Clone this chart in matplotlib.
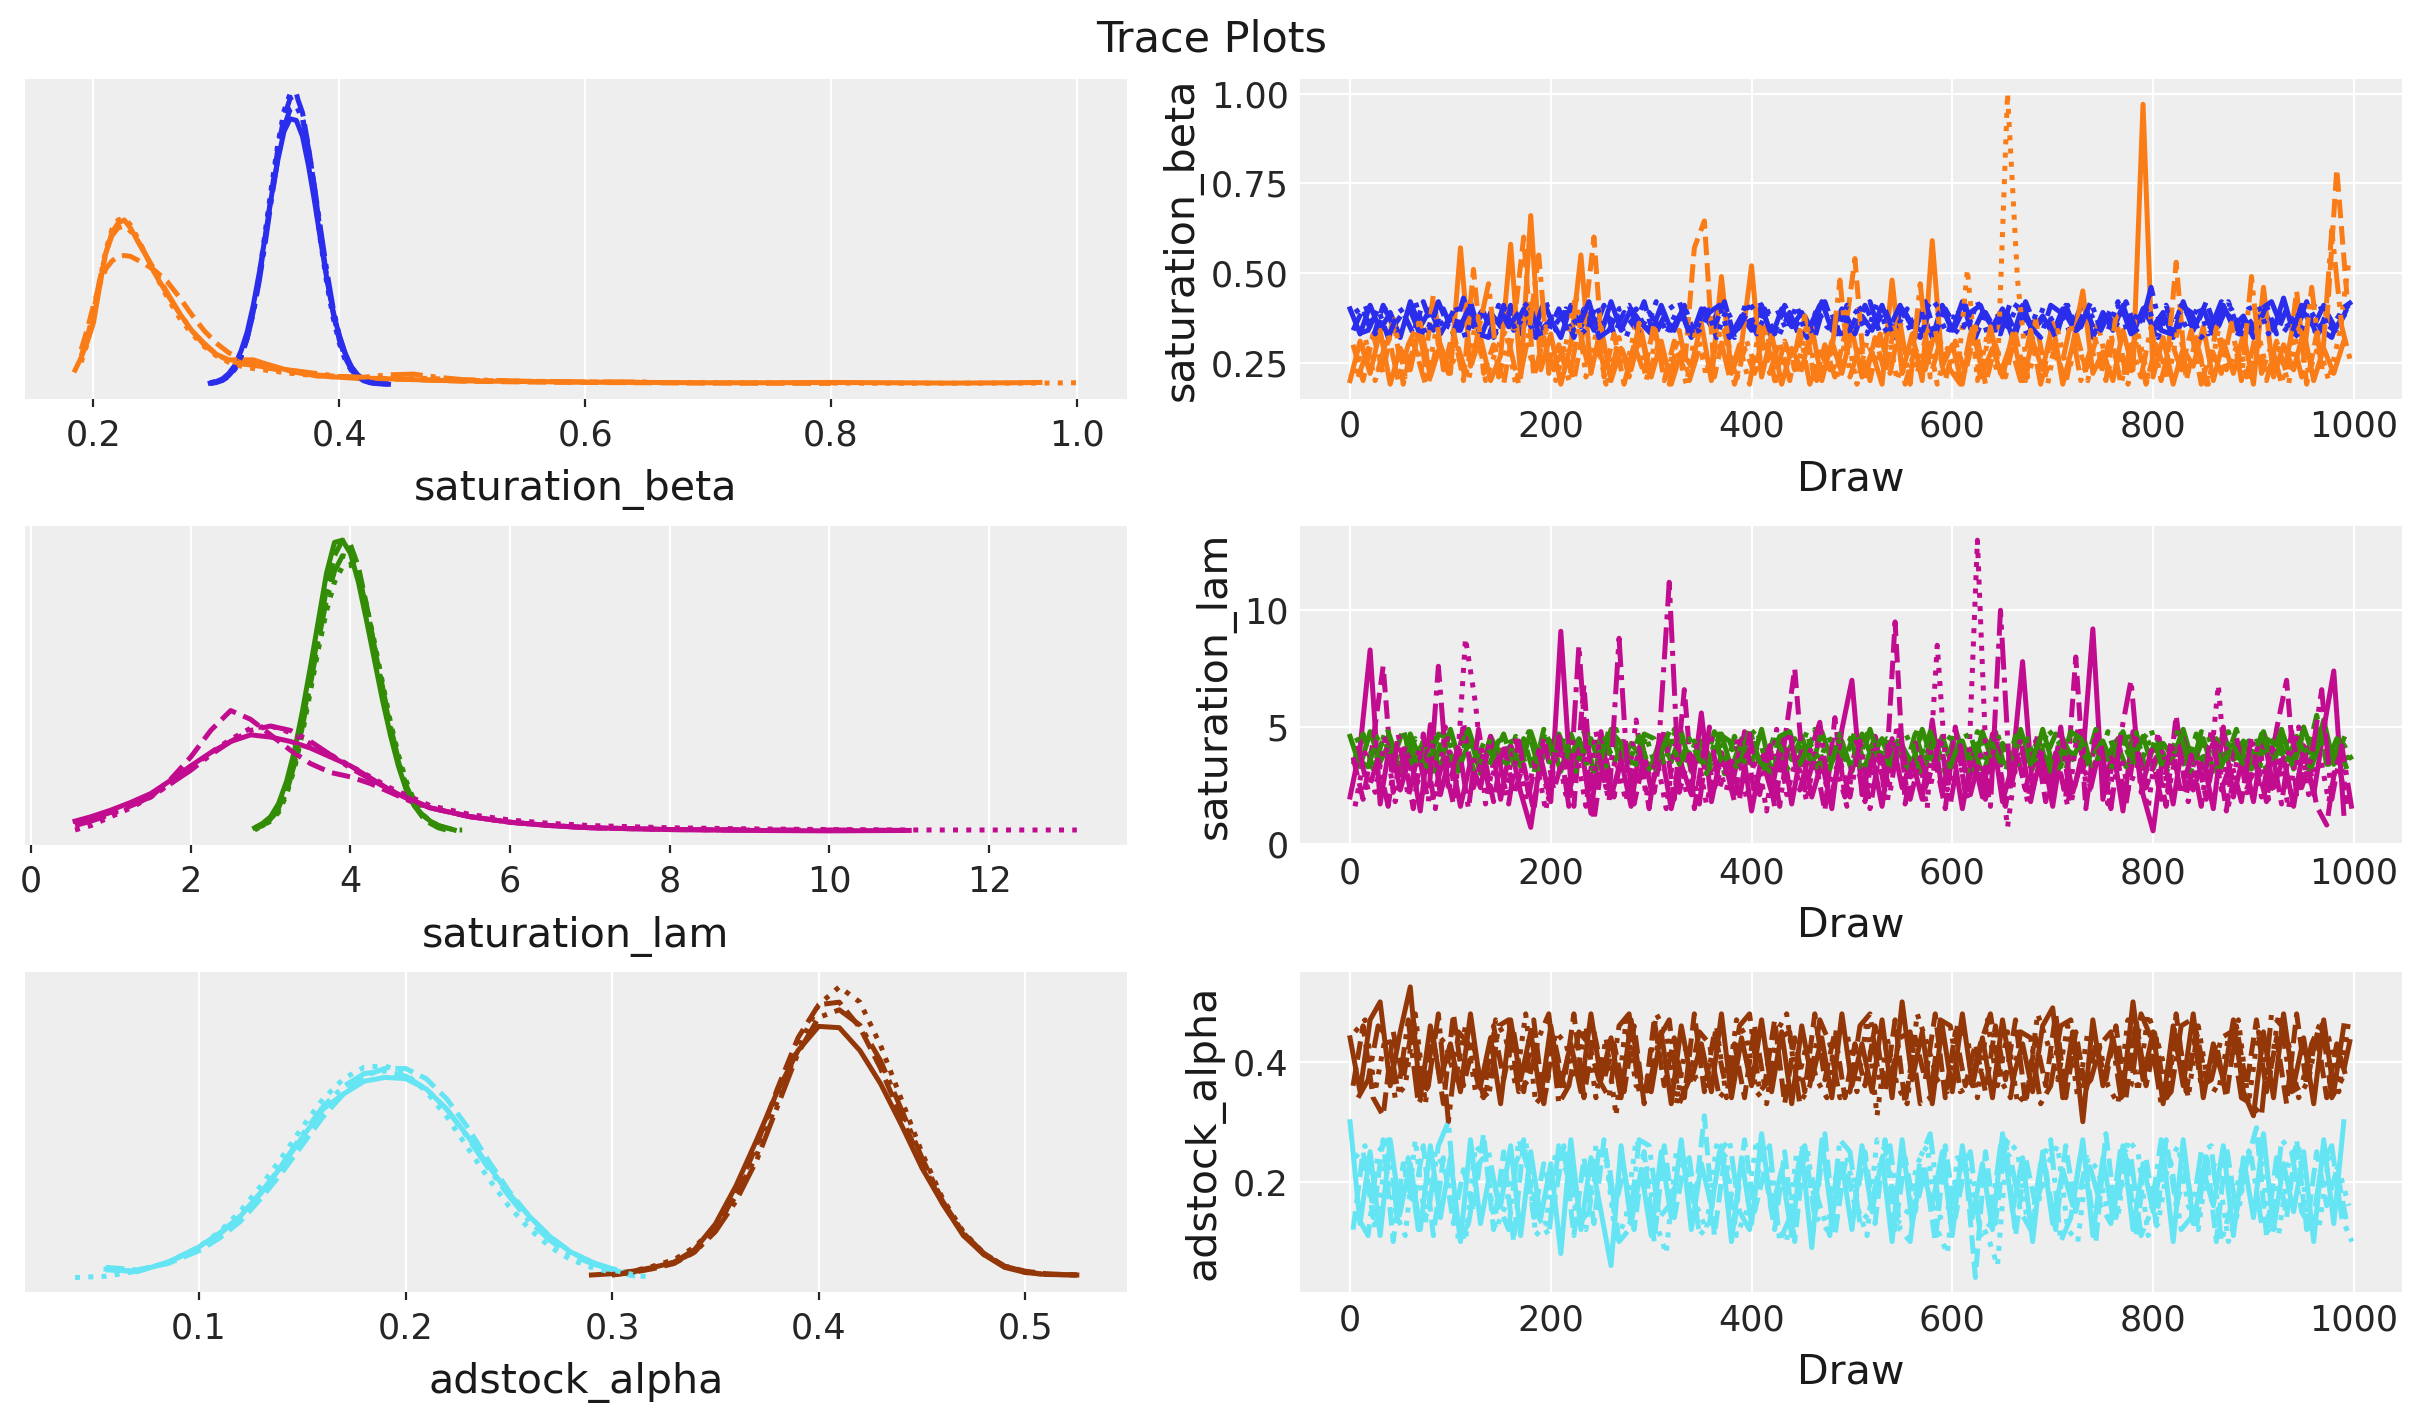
import numpy as np
import matplotlib
matplotlib.use("Agg")
import matplotlib.pyplot as plt
from matplotlib.ticker import MultipleLocator

nan = np.nan

# ---------------- trace values: every 10th draw of each chain ----------------
# chains are thinned with different starting draws (0, 3, 5, 8)
chain_offsets = [0, 3, 5, 8]
thin = 10

beta0_c0 = [0.40,0.33,0.41,0.34,0.39,0.32,0.42,0.35,0.40,0.33,
            0.38,0.34,0.42,0.32,0.39,0.35,0.41,0.33,0.40,0.34,
            0.37,0.32,0.41,0.35,0.39,0.33,0.42,0.34,0.40,0.36,
            0.33,0.41,0.34,0.39,0.32,0.40,0.35,0.42,0.33,0.38,
            0.34,0.41,0.32,0.40,0.35,0.39,0.33,0.42,0.34,0.40,
            0.32,0.38,0.34,0.41,0.33,0.40,0.35,0.39,0.32,0.41,
            0.34,0.42,0.33,0.39,0.35,0.40,0.32,0.41,0.34,0.38,
            0.33,0.40,0.35,0.42,0.32,0.39,0.34,0.41,0.33,0.40,
            0.35,0.39,0.32,0.42,0.34,0.40,0.33,0.41,0.35,0.38,
            0.32,0.40,0.34,0.43,0.33,0.39,0.35,0.41,0.34,0.38]
beta0_c1 = [0.34,0.40,0.32,0.41,0.35,0.39,0.33,0.42,0.34,0.40,
            0.33,0.43,0.35,0.39,0.32,0.41,0.34,0.40,0.33,0.42,
            0.35,0.39,0.32,0.40,0.34,0.41,0.33,0.39,0.35,0.42,
            0.32,0.38,0.34,0.41,0.33,0.40,0.35,0.42,0.32,0.39,
            0.34,0.40,0.33,0.41,0.35,0.38,0.32,0.42,0.34,0.39,
            0.33,0.41,0.35,0.40,0.32,0.39,0.34,0.42,0.33,0.40,
            0.35,0.41,0.32,0.39,0.34,0.40,0.33,0.42,0.35,0.38,
            0.32,0.41,0.34,0.40,0.33,0.39,0.35,0.42,0.34,0.40,
            0.32,0.41,0.33,0.39,0.35,0.42,0.34,0.40,0.32,0.38,
            0.34,0.41,0.33,0.40,0.35,0.42,0.32,0.39,0.34,0.40]
beta0_c2 = [0.39,0.41,0.33,0.40,0.34,0.35,0.42,0.33,0.39,0.34,
            0.41,0.32,0.40,0.38,0.33,0.41,0.34,0.39,0.32,0.42,
            0.34,0.40,0.36,0.33,0.41,0.35,0.39,0.32,0.40,0.34,
            0.42,0.33,0.39,0.35,0.34,0.41,0.32,0.40,0.34,0.42,
            0.33,0.39,0.40,0.34,0.41,0.32,0.40,0.35,0.33,0.41,
            0.39,0.33,0.42,0.34,0.35,0.40,0.32,0.41,0.39,0.33,
            0.40,0.34,0.42,0.33,0.38,0.35,0.41,0.32,0.40,0.39,
            0.34,0.41,0.33,0.40,0.35,0.34,0.42,0.33,0.39,0.41,
            0.32,0.40,0.39,0.34,0.41,0.33,0.35,0.42,0.34,0.40,
            0.41,0.33,0.39,0.35,0.32,0.40,0.42,0.34,0.38,0.41]
beta0_c3 = [0.33,0.34,0.40,0.32,0.39,0.41,0.34,0.33,0.42,0.35,
            0.34,0.40,0.33,0.32,0.41,0.35,0.39,0.42,0.33,0.34,
            0.40,0.33,0.35,0.42,0.32,0.34,0.40,0.41,0.33,0.39,
            0.35,0.40,0.42,0.33,0.34,0.39,0.41,0.32,0.35,0.40,
            0.42,0.34,0.33,0.39,0.32,0.35,0.41,0.40,0.33,0.34,
            0.40,0.42,0.33,0.35,0.41,0.34,0.32,0.40,0.42,0.35,
            0.33,0.39,0.41,0.34,0.33,0.42,0.40,0.35,0.32,0.41,
            0.39,0.33,0.35,0.42,0.34,0.40,0.41,0.33,0.35,0.46,
            0.34,0.33,0.41,0.39,0.32,0.35,0.42,0.40,0.33,0.34,
            0.40,0.42,0.35,0.33,0.41,0.39,0.34,0.32,0.40,0.42]

beta1_c0 = [0.20,0.31,0.22,0.34,0.19,0.29,0.23,0.36,0.21,0.30,
            0.22,0.57,0.24,0.32,0.20,0.27,0.58,0.21,0.66,0.23,
            0.33,0.19,0.30,0.55,0.22,0.35,0.20,0.29,0.23,0.34,
            0.21,0.31,0.19,0.28,0.24,0.36,0.20,0.49,0.22,0.30,
            0.52,0.21,0.33,0.19,0.29,0.23,0.35,0.20,0.31,0.22,
            0.34,0.21,0.28,0.19,0.48,0.22,0.33,0.20,0.59,0.24,
            0.30,0.19,0.35,0.22,0.29,0.21,0.33,0.20,0.31,0.23,
            0.36,0.19,0.30,0.45,0.22,0.28,0.20,0.34,0.23,0.97,
            0.21,0.32,0.19,0.29,0.24,0.35,0.20,0.31,0.22,0.33,
            0.19,0.46,0.21,0.30,0.23,0.34,0.20,0.29,0.22,0.31]
beta1_c1 = [0.30,0.20,0.33,0.22,0.38,0.19,0.31,0.21,0.44,0.23,
            0.34,0.20,0.51,0.22,0.30,0.19,0.35,0.60,0.21,0.32,
            0.23,0.29,0.20,0.35,0.60,0.21,0.33,0.19,0.30,0.22,
            0.36,0.20,0.31,0.23,0.57,0.645,0.21,0.34,0.19,0.29,
            0.22,0.35,0.20,0.31,0.23,0.38,0.19,0.30,0.21,0.33,
            0.54,0.20,0.32,0.22,0.36,0.19,0.29,0.23,0.34,0.20,
            0.31,0.22,0.35,0.19,0.30,0.21,0.33,0.20,0.37,0.22,
            0.29,0.19,0.34,0.23,0.31,0.20,0.38,0.21,0.33,0.19,
            0.30,0.22,0.53,0.20,0.32,0.19,0.35,0.23,0.29,0.21,
            0.34,0.20,0.31,0.22,0.45,0.19,0.33,0.36,0.79,0.44]
beta1_c2 = [0.22,0.32,0.20,0.29,0.35,0.21,0.31,0.19,0.33,0.23,
            0.30,0.21,0.36,0.20,0.28,0.34,0.19,0.31,0.22,0.35,
            0.20,0.30,0.44,0.21,0.33,0.19,0.29,0.23,0.36,0.20,
            0.32,0.22,0.30,0.19,0.35,0.21,0.28,0.33,0.20,0.31,
            0.23,0.34,0.19,0.30,0.22,0.36,0.20,0.29,0.21,0.33,
            0.19,0.31,0.24,0.35,0.20,0.30,0.22,0.34,0.19,0.29,
            0.21,0.51,0.20,0.33,0.22,1.00,0.48,0.21,0.30,0.19,
            0.34,0.22,0.31,0.20,0.36,0.23,0.28,0.19,0.33,0.21,
            0.30,0.20,0.35,0.22,0.29,0.19,0.34,0.23,0.31,0.20,
            0.33,0.21,0.29,0.19,0.36,0.22,0.30,0.20,0.32,0.53]
beta1_c3 = [0.21,0.29,0.23,0.33,0.20,0.30,0.36,0.19,0.32,0.22,
            0.29,0.20,0.34,0.47,0.21,0.31,0.19,0.33,0.55,0.22,
            0.30,0.20,0.35,0.23,0.29,0.19,0.32,0.21,0.36,0.22,
            0.31,0.19,0.34,0.20,0.29,0.23,0.33,0.21,0.30,0.19,
            0.35,0.22,0.31,0.20,0.34,0.19,0.28,0.23,0.48,0.21,
            0.30,0.20,0.33,0.22,0.36,0.19,0.47,0.21,0.31,0.23,
            0.19,0.33,0.21,0.35,0.22,0.30,0.20,0.34,0.19,0.31,
            0.23,0.36,0.20,0.29,0.22,0.33,0.19,0.30,0.21,0.35,
            0.20,0.31,0.23,0.34,0.19,0.29,0.22,0.36,0.20,0.49,
            0.22,0.30,0.19,0.33,0.21,0.46,0.23,0.62,0.35,0.24]

lam0_c0 = [4.6,3.3,4.8,3.5,4.4,3.1,4.7,3.6,4.3,3.2,
           4.9,3.4,4.5,3.0,4.6,3.7,4.2,3.3,4.8,3.5,
           4.4,3.1,4.7,3.6,4.5,3.2,4.9,3.4,4.3,3.7,
           3.3,4.6,3.5,4.8,3.1,4.4,3.6,4.7,3.2,4.5,
           3.4,4.9,3.0,4.3,3.6,4.6,3.3,4.8,3.5,4.4,
           3.1,4.7,3.7,4.5,3.2,4.2,3.4,4.9,3.6,4.6,
           3.3,4.4,3.1,4.8,3.5,4.3,3.7,4.6,3.2,4.9,
           3.4,4.5,3.6,4.7,3.0,4.4,3.3,4.8,3.5,4.6,
           3.2,4.3,3.7,4.9,3.4,4.5,3.1,4.7,3.6,4.4,
           3.3,4.8,3.5,4.6,3.2,5.0,3.7,5.3,3.4,4.5]
lam0_c1 = [3.4,4.7,3.2,4.5,3.6,4.9,3.3,4.4,3.1,4.8,
           3.5,4.6,3.2,4.3,3.7,4.7,3.4,4.5,3.0,4.9,
           3.6,4.4,3.3,4.8,3.1,4.6,3.5,4.3,3.2,4.7,
           4.5,3.4,4.9,3.6,4.4,3.3,4.8,3.0,4.6,3.5,
           4.3,3.2,4.7,3.7,4.5,3.4,4.9,3.1,4.4,3.6,
           4.8,3.3,4.6,3.5,4.3,3.2,4.7,3.4,4.5,3.0,
           4.9,3.6,4.4,3.3,4.8,3.1,4.6,3.5,4.2,3.7,
           4.7,3.2,4.5,3.4,4.9,3.6,4.4,3.3,4.8,3.1,
           4.6,3.5,4.3,3.2,4.7,3.4,4.5,3.6,4.9,3.3,
           4.4,3.1,4.8,3.5,4.6,3.7,5.5,3.4,4.5,3.2]
lam0_c2 = [4.4,4.6,3.4,4.8,3.2,3.6,4.5,3.1,4.7,3.5,
           3.3,4.9,3.6,4.4,4.3,3.2,4.6,3.4,3.7,4.8,
           3.5,4.4,3.1,4.7,4.5,3.3,4.9,3.6,3.4,4.6,
           3.2,4.3,4.8,3.5,4.4,3.0,4.7,3.6,3.3,4.5,
           4.9,3.4,4.6,3.2,3.5,4.8,3.1,4.4,4.6,3.6,
           3.3,4.7,3.5,4.5,4.4,3.2,4.9,3.4,3.6,4.6,
           4.3,3.1,4.8,3.5,4.7,3.3,3.4,4.5,3.2,4.9,
           4.4,3.6,4.6,3.4,3.3,4.8,3.5,4.7,3.1,4.3,
           4.5,3.2,4.9,3.6,3.4,4.6,3.3,4.8,3.5,4.4,
           3.1,4.7,3.6,4.5,4.3,3.2,4.9,3.4,4.6,3.5]
lam0_c3 = [3.6,3.3,4.6,4.8,3.5,4.4,3.2,3.4,4.7,4.5,
           3.1,4.9,3.6,3.3,4.4,4.6,3.5,4.8,3.2,3.4,
           4.7,3.6,4.5,3.1,3.3,4.9,4.4,3.5,4.6,3.2,
           3.7,4.8,3.4,4.5,3.6,3.2,4.7,4.4,3.3,4.9,
           3.5,3.1,4.6,4.8,3.4,4.3,3.6,3.2,4.7,4.5,
           3.3,4.9,3.5,3.4,4.4,4.6,3.1,4.8,3.6,3.3,
           4.5,4.7,3.2,4.4,3.5,3.6,4.9,3.4,4.6,3.1,
           3.3,4.8,4.5,3.6,4.3,3.2,4.7,3.5,4.4,4.9,
           3.4,3.6,4.6,3.1,4.8,4.5,3.3,4.4,3.5,3.2,
           4.7,3.6,4.9,3.4,4.5,3.3,4.6,3.5,4.4,3.6]

lam1_c0 = [2.0,4.1,8.3,1.7,4.4,2.3,3.8,1.4,5.1,2.1,
           3.9,1.6,3.5,2.4,4.6,1.9,4.2,2.2,0.7,3.7,
           1.8,9.1,2.5,4.3,1.3,4.8,2.0,3.6,1.6,4.5,
           2.3,4.0,1.5,3.4,2.1,5.6,1.8,3.9,2.4,4.4,
           1.4,3.7,2.2,4.6,1.7,4.1,2.0,3.5,1.5,4.9,
           7.0,2.1,3.8,1.6,4.5,2.4,3.6,1.9,5.3,2.2,
           4.2,1.5,3.9,2.0,4.7,1.8,3.4,7.8,2.3,4.0,
           1.6,4.4,2.2,3.7,9.2,1.9,4.1,1.4,4.8,2.1,
           0.55,3.9,1.7,4.5,2.3,3.6,1.5,5.0,2.0,3.8,
           1.8,4.6,2.4,3.7,1.6,4.2,2.1,4.9,7.4,1.3]
lam1_c1 = [3.7,1.9,4.4,7.6,2.2,4.0,1.5,4.7,2.0,3.6,
           1.7,5.2,2.4,3.9,1.8,4.3,2.1,3.4,1.4,4.6,
           2.3,3.8,1.6,6.8,1.0,4.1,2.0,4.5,1.7,3.7,
           2.2,4.9,1.9,6.6,1.5,4.2,2.4,3.5,1.8,4.8,
           2.1,4.0,1.6,4.4,7.5,2.3,3.7,1.4,5.4,2.0,
           3.9,1.8,4.6,2.2,9.5,1.7,4.3,2.4,3.6,1.5,
           5.0,2.1,3.8,1.9,4.7,1.6,4.1,2.3,4.4,1.8,
           3.9,2.0,8.0,1.5,4.8,2.2,4.0,1.7,4.5,2.4,
           3.7,1.6,5.5,2.1,3.9,1.9,4.3,1.4,4.6,2.3,
           3.5,1.8,4.9,7.0,2.0,4.1,1.6,0.8,3.8,1.7]
lam1_c2 = [1.6,3.9,2.2,4.5,1.8,4.2,2.4,3.4,1.5,5.0,
           2.0,8.8,6.0,1.7,4.0,2.3,4.6,1.9,3.7,1.4,
           4.4,2.1,4.1,1.6,4.8,2.4,3.6,1.8,5.3,2.0,
           3.8,1.5,4.7,2.2,4.2,1.7,3.5,2.3,4.5,1.9,
           4.0,1.4,4.9,2.1,3.7,1.8,4.3,2.4,3.3,1.6,
           4.6,2.0,3.9,1.7,5.1,2.2,3.8,1.5,8.5,2.3,
           4.1,1.9,13.0,2.1,4.4,0.7,3.9,1.8,4.7,2.4,
           3.6,1.6,4.9,2.0,4.0,1.7,4.5,2.3,3.4,1.5,
           4.8,2.2,4.2,1.8,3.7,2.4,6.8,1.6,3.9,2.0,
           4.4,1.9,3.8,1.5,5.0,2.1,4.1,1.8,3.9,1.6]
lam1_c3 = [4.2,2.3,3.6,1.6,4.7,2.0,3.9,1.8,7.6,2.2,
           4.3,1.5,4.9,2.4,3.7,1.7,4.4,2.1,4.0,1.9,
           4.6,1.6,8.5,2.3,3.8,1.8,8.8,2.0,4.1,1.5,
           4.5,11.2,2.2,3.8,1.7,5.0,2.4,3.5,1.9,4.7,
           2.1,4.2,1.6,4.8,2.3,3.9,5.2,1.8,3.6,2.0,
           4.4,1.5,4.0,2.2,4.9,1.9,3.7,2.4,4.6,1.7,
           4.2,2.1,3.8,1.6,10.0,2.3,4.5,1.8,3.9,2.0,
           5.0,1.7,3.6,2.4,4.3,1.5,4.7,7.0,2.2,4.0,
           1.9,4.4,2.1,3.8,1.6,4.9,2.3,3.5,1.8,4.6,
           2.0,4.1,1.7,4.8,2.4,3.7,6.6,1.9,4.2,1.5]

alpha0_c0 = [0.44,0.35,0.47,0.50,0.36,0.45,0.525,0.34,0.46,0.37,
             0.43,0.35,0.48,0.36,0.44,0.33,0.47,0.37,0.45,0.34,
             0.46,0.36,0.43,0.35,0.48,0.37,0.44,0.34,0.47,0.36,
             0.35,0.45,0.33,0.46,0.37,0.43,0.35,0.48,0.34,0.44,
             0.36,0.47,0.35,0.45,0.33,0.46,0.37,0.44,0.34,0.48,
             0.36,0.43,0.35,0.47,0.34,0.50,0.37,0.45,0.33,0.46,
             0.35,0.48,0.36,0.44,0.34,0.47,0.37,0.43,0.35,0.46,
             0.49,0.34,0.45,0.30,0.47,0.36,0.44,0.35,0.50,0.37,
             0.45,0.33,0.46,0.36,0.48,0.34,0.43,0.37,0.47,0.35,
             0.31,0.45,0.34,0.48,0.36,0.44,0.33,0.47,0.35,0.46]
alpha0_c1 = [0.36,0.46,0.34,0.31,0.45,0.37,0.47,0.35,0.44,0.33,
             0.48,0.36,0.43,0.34,0.46,0.37,0.45,0.35,0.47,0.33,
             0.44,0.36,0.48,0.34,0.45,0.37,0.43,0.35,0.46,0.33,
             0.47,0.36,0.44,0.34,0.48,0.35,0.45,0.37,0.43,0.34,
             0.46,0.36,0.47,0.33,0.44,0.35,0.48,0.37,0.45,0.34,
             0.43,0.36,0.46,0.35,0.47,0.33,0.44,0.37,0.48,0.34,
             0.45,0.36,0.43,0.35,0.46,0.37,0.47,0.33,0.44,0.36,
             0.48,0.34,0.45,0.35,0.43,0.37,0.46,0.34,0.47,0.36,
             0.44,0.33,0.48,0.35,0.45,0.37,0.43,0.34,0.46,0.36,
             0.47,0.35,0.44,0.33,0.48,0.36,0.45,0.34,0.43,0.37]
alpha0_c2 = [0.45,0.47,0.35,0.44,0.34,0.36,0.48,0.33,0.45,0.43,
             0.37,0.46,0.35,0.34,0.47,0.44,0.36,0.48,0.33,0.35,
             0.45,0.43,0.37,0.46,0.34,0.44,0.31,0.47,0.36,0.35,
             0.48,0.45,0.33,0.43,0.37,0.36,0.46,0.34,0.47,0.44,
             0.35,0.33,0.45,0.48,0.36,0.43,0.37,0.34,0.46,0.45,
             0.35,0.47,0.31,0.44,0.36,0.33,0.48,0.43,0.37,0.35,
             0.46,0.44,0.34,0.47,0.36,0.45,0.33,0.35,0.48,0.43,
             0.37,0.46,0.34,0.45,0.44,0.36,0.33,0.47,0.35,0.48,
             0.43,0.37,0.45,0.34,0.46,0.36,0.35,0.44,0.47,0.33,
             0.45,0.36,0.48,0.43,0.34,0.37,0.46,0.44,0.35,0.47]
alpha0_c3 = [0.34,0.37,0.46,0.44,0.35,0.47,0.33,0.36,0.48,0.30,
             0.45,0.43,0.36,0.34,0.46,0.47,0.35,0.37,0.44,0.48,
             0.33,0.36,0.45,0.43,0.37,0.34,0.46,0.48,0.35,0.36,
             0.44,0.47,0.33,0.37,0.45,0.43,0.34,0.36,0.46,0.48,
             0.35,0.37,0.44,0.45,0.33,0.36,0.47,0.43,0.34,0.35,
             0.46,0.48,0.36,0.37,0.44,0.45,0.33,0.34,0.47,0.46,
             0.35,0.36,0.43,0.48,0.37,0.34,0.45,0.44,0.33,0.36,
             0.46,0.47,0.35,0.37,0.43,0.45,0.34,0.36,0.48,0.44,
             0.33,0.35,0.46,0.47,0.36,0.37,0.44,0.45,0.34,0.33,
             0.31,0.48,0.46,0.35,0.36,0.43,0.47,0.34,0.37,0.45]

alpha1_c0 = [0.30,0.13,0.25,0.11,0.27,0.15,0.23,0.12,0.26,0.14,
             0.24,0.10,0.27,0.13,0.22,0.16,0.26,0.11,0.25,0.14,
             0.23,0.08,0.27,0.12,0.24,0.15,0.06,0.26,0.13,0.22,
             0.11,0.25,0.14,0.27,0.12,0.23,0.16,0.26,0.10,0.24,
             0.13,0.28,0.15,0.22,0.11,0.25,0.09,0.27,0.14,0.23,
             0.12,0.26,0.15,0.24,0.10,0.27,0.13,0.22,0.16,0.25,
             0.11,0.26,0.14,0.23,0.12,0.28,0.15,0.24,0.10,0.25,
             0.13,0.22,0.16,0.27,0.11,0.24,0.14,0.26,0.12,0.23,
             0.15,0.25,0.10,0.27,0.13,0.22,0.16,0.26,0.11,0.24,
             0.14,0.28,0.12,0.23,0.15,0.25,0.10,0.27,0.13,0.30]
alpha1_c1 = [0.12,0.25,0.14,0.27,0.10,0.23,0.16,0.26,0.11,0.24,
             0.13,0.22,0.15,0.28,0.12,0.25,0.10,0.27,0.14,0.23,
             0.16,0.26,0.11,0.24,0.13,0.27,0.15,0.22,0.12,0.25,
             0.10,0.26,0.14,0.23,0.16,0.31,0.11,0.24,0.13,0.27,
             0.15,0.22,0.12,0.25,0.10,0.26,0.14,0.28,0.11,0.23,
             0.16,0.25,0.13,0.27,0.12,0.24,0.15,0.22,0.10,0.26,
             0.14,0.23,0.04,0.25,0.13,0.27,0.11,0.24,0.16,0.22,
             0.12,0.26,0.15,0.23,0.10,0.28,0.14,0.25,0.11,0.24,
             0.13,0.27,0.16,0.22,0.12,0.25,0.10,0.26,0.15,0.23,
             0.29,0.11,0.24,0.14,0.27,0.12,0.25,0.16,0.22,0.13]
alpha1_c2 = [0.24,0.26,0.12,0.23,0.15,0.11,0.27,0.13,0.25,0.22,
             0.14,0.10,0.26,0.24,0.12,0.16,0.23,0.27,0.11,0.13,
             0.25,0.22,0.15,0.12,0.26,0.24,0.10,0.14,0.27,0.23,
             0.13,0.08,0.25,0.22,0.16,0.12,0.26,0.24,0.11,0.15,
             0.27,0.23,0.13,0.10,0.25,0.26,0.14,0.12,0.22,0.24,
             0.16,0.11,0.27,0.25,0.13,0.15,0.23,0.26,0.12,0.08,
             0.24,0.22,0.14,0.11,0.06,0.27,0.25,0.13,0.16,0.23,
             0.26,0.12,0.10,0.24,0.22,0.15,0.14,0.27,0.25,0.11,
             0.13,0.23,0.26,0.16,0.12,0.24,0.22,0.10,0.15,0.25,
             0.27,0.14,0.11,0.23,0.26,0.13,0.12,0.24,0.22,0.16]
alpha1_c3 = [0.14,0.11,0.25,0.27,0.13,0.24,0.12,0.15,0.26,0.30,
             0.10,0.13,0.23,0.25,0.16,0.12,0.27,0.22,0.14,0.11,
             0.26,0.24,0.13,0.15,0.25,0.23,0.10,0.12,0.27,0.26,
             0.14,0.16,0.22,0.24,0.11,0.13,0.25,0.27,0.15,0.12,
             0.23,0.26,0.10,0.14,0.24,0.22,0.16,0.11,0.27,0.25,
             0.13,0.15,0.23,0.26,0.12,0.10,0.24,0.28,0.14,0.16,
             0.22,0.25,0.11,0.13,0.26,0.24,0.15,0.12,0.23,0.27,
             0.10,0.14,0.25,0.22,0.16,0.13,0.26,0.24,0.11,0.15,
             0.27,0.23,0.12,0.14,0.25,0.26,0.10,0.16,0.22,0.24,
             0.13,0.11,0.27,0.25,0.15,0.12,0.23,0.26,0.14,0.10]

# ---------------- density curves (per chain) ----------------
beta0_grid = np.linspace(0.295, 0.44, 30)
beta0_kde = [
    [0.08,0.18,0.35,0.68,1.2,2.1,3.3,5.0,7.1,9.5,12.0,14.2,16.0,16.8,16.7,15.7,13.8,11.5,9.0,6.6,4.6,3.05,1.9,1.1,0.6,0.31,0.15,0.07,0.03,0.01],
    [0.05,0.12,0.25,0.5,0.95,1.7,2.9,4.6,6.8,9.4,12.2,14.9,16.9,18.1,18.3,17.2,15.0,12.3,9.4,6.7,4.5,2.8,1.65,0.9,0.45,0.22,0.1,0.05,0.02,0.01],
    [0.1,0.2,0.3,0.55,1.0,1.8,3.0,4.7,7.0,9.8,12.6,15.2,17.3,18.4,18.4,17.0,14.6,11.8,8.9,6.3,4.2,2.6,1.5,0.85,0.45,0.22,0.12,0.07,0.05,0.04],
    [0.06,0.14,0.28,0.55,1.0,1.75,2.9,4.5,6.6,9.1,11.8,14.3,16.3,17.4,17.6,16.8,14.9,12.4,9.7,7.1,4.8,3.1,1.9,1.05,0.55,0.27,0.13,0.06,0.03,0.01],
]
beta1_grid = [0.185,0.19,0.195,0.20,0.205,0.21,0.215,0.22,0.225,0.23,
              0.235,0.24,0.25,0.26,0.27,0.28,0.29,0.30,0.31,0.32,
              0.33,0.34,0.36,0.38,0.40,0.42,0.44,0.46,0.48,0.50,
              0.55,0.60,0.65,0.70,0.75,0.80,0.85,0.90,0.95,0.97,1.0]
beta1_kde = [
    [0.9,1.7,2.7,3.9,6.2,8.3,9.6,10.2,10.4,9.9, 9.2,8.6,7.0,5.7,4.5,3.4,2.6,1.9,1.55,1.55,
     1.55,1.3,0.85,0.55,0.45,0.35,0.35,0.3,0.25,0.22, 0.18,0.14,0.12,0.1,0.1,0.12,0.1,0.08,0.1,0.12, nan],
    [nan,2.2,3.5,5.0,6.3,7.3,7.8,8.1,8.15,8.1, 7.9,7.7,7.2,6.5,5.5,4.4,3.4,2.6,2.0,1.6,
     1.3,1.05,0.8,0.6,0.5,0.4,0.35,0.3,0.25,0.2, 0.15,0.12,0.1,0.08,0.07,0.06,nan,nan,nan,nan, nan],
    [nan,1.4,2.6,4.2,6.5,8.5,9.8,10.4,10.5,10.1, 9.4,8.6,7.0,5.5,4.2,3.2,2.4,1.8,1.4,1.15,
     1.0,0.9,0.7,0.55,0.45,0.38,0.32,0.4,0.35,0.25, 0.2,0.15,0.12,0.1,0.1,0.08,0.07,0.07,0.08,0.08, 0.1],
    [nan,1.8,3.0,4.6,6.6,8.3,9.4,9.9,10.0,9.7, 9.2,8.5,7.2,5.8,4.5,3.4,2.5,1.9,1.5,1.3,
     1.2,1.1,0.9,0.7,0.5,0.45,0.6,0.65,0.45,0.3, 0.2,0.15,0.15,nan,nan,nan,nan,nan,nan,nan, nan],
]

lam0_grid = np.linspace(2.7, 5.4, 28)
lam0_kde = [
    [nan,0.02,0.04,0.07,0.13,0.23,0.37,0.55,0.75,0.96,1.17,1.31,1.32,1.26,1.13,0.96,0.78,0.6,0.44,0.3,0.19,0.12,0.08,0.05,0.03,0.02,0.01,nan],
    [nan,0.02,0.03,0.06,0.11,0.2,0.33,0.5,0.7,0.9,1.1,1.25,1.32,1.3,1.2,1.03,0.84,0.65,0.47,0.32,0.2,0.12,0.07,0.04,0.02,0.01,nan,nan],
    [nan,0.01,0.03,0.05,0.09,0.17,0.29,0.45,0.64,0.83,1.0,1.13,1.2,1.21,1.15,1.03,0.86,0.68,0.5,0.35,0.23,0.14,0.08,0.05,0.03,0.02,0.01,0.01],
    [nan,0.02,0.03,0.06,0.1,0.18,0.31,0.48,0.67,0.87,1.05,1.18,1.25,1.24,1.16,1.02,0.84,0.66,0.48,0.33,0.21,0.13,0.08,0.05,0.03,0.02,nan,nan],
]
lam1_grid = [0.55,0.75,1.0,1.25,1.5,1.75,2.0,2.25,2.5,2.75,
             3.0,3.25,3.5,3.75,4.0,4.25,4.5,4.75,5.0,5.5,
             6.0,6.5,7.0,8.0,9.0,10.0,11.0,12.0,13.1]
lam1_kde = [
    [0.05,0.07,0.1,0.135,0.175,0.235,0.3,0.36,0.41,0.44, 0.43,0.41,0.38,0.34,0.30,0.245,0.19,0.145,0.11,0.07,
     0.045,0.03,0.02,0.012,0.008,0.006,0.008,nan,nan],
    [0.04,0.06,0.09,0.12,0.16,0.24,0.34,0.46,0.55,0.51, 0.44,0.37,0.31,0.27,0.25,0.22,0.18,0.14,0.11,0.07,
     0.045,0.03,0.02,0.012,0.01,nan,nan,nan,nan],
    [0.01,0.03,0.07,0.11,0.16,0.22,0.29,0.36,0.42,0.47, 0.48,0.45,0.40,0.35,0.30,0.25,0.2,0.16,0.12,0.08,
     0.055,0.04,0.03,0.02,0.015,0.012,0.01,0.01,0.01],
    [0.03,0.05,0.08,0.12,0.16,0.22,0.28,0.35,0.41,0.46, 0.48,0.46,0.41,0.35,0.29,0.24,0.19,0.15,0.11,0.07,
     0.045,0.03,0.02,0.012,0.01,0.01,0.008,nan,nan],
]

alpha0_grid = [0.29,0.30,0.31,0.32,0.33,0.34,0.35,0.36,0.37,0.38,0.39,0.40,
               0.41,0.42,0.43,0.44,0.45,0.46,0.47,0.48,0.49,0.50,0.51,0.525]
alpha0_kde = [
    [0.1,0.15,0.25,0.4,0.6,1.1,2.1,3.6,5.4,7.3,8.9,9.85,9.8,8.9,7.6,6.0,4.3,2.9,1.65,0.9,0.4,0.2,0.12,0.1],
    [nan,0.1,0.2,0.35,0.55,1.0,1.9,3.3,5.2,7.4,9.4,10.7,10.8,9.8,8.2,6.3,4.5,2.9,1.7,0.9,0.45,0.25,0.15,0.1],
    [nan,0.12,0.25,0.45,0.7,1.2,2.0,3.2,4.8,6.9,9.0,10.7,11.4,10.8,9.1,7.0,4.9,3.1,1.8,0.95,0.45,0.2,0.12,nan],
    [nan,0.1,0.22,0.38,0.6,1.0,1.8,3.0,4.6,6.7,8.8,10.2,10.5,9.9,8.5,6.6,4.7,3.0,1.75,0.95,0.45,0.22,0.13,0.1],
]
alpha1_grid = [0.04,0.055,0.07,0.085,0.10,0.11,0.12,0.13,0.14,0.15,
               0.16,0.17,0.18,0.19,0.20,0.21,0.22,0.23,0.24,0.25,
               0.26,0.27,0.28,0.29,0.30,0.31,0.32]
alpha1_kde = [
    [nan,0.33,0.23,0.6,1.2,1.75,2.4,3.35,4.36,5.5,6.6,7.2,7.7,7.85,7.8,7.4,6.6,5.55,4.4,3.3,2.4,1.6,1.0,0.62,0.3,0.08,nan],
    [nan,0.4,0.3,0.55,1.05,1.55,2.2,3.1,4.1,5.2,6.3,7.2,7.9,8.2,8.2,7.8,7.0,5.9,4.6,3.4,2.4,1.6,1.0,0.6,0.35,0.15,nan],
    [0.0,0.05,0.25,0.6,1.2,1.8,2.6,3.6,4.7,5.9,7.0,7.8,8.25,8.3,8.0,7.3,6.3,5.1,3.9,2.8,1.9,1.2,0.7,0.4,0.2,0.08,0.02],
    [nan,0.3,0.25,0.6,1.15,1.7,2.4,3.3,4.4,5.6,6.7,7.5,8.0,8.1,7.9,7.4,6.6,5.5,4.3,3.2,2.2,1.45,0.9,0.55,0.3,0.12,nan],
]

var_names = ["saturation_beta", "saturation_lam", "adstock_alpha"]
colors = [("#2a2eec", "#fa7c17"), ("#328c06", "#c10c90"), ("#933708", "#65e5f3")]
chain_styles = ["-", "--", ":", "-."]

traces = [
    ([beta0_c0, beta0_c1, beta0_c2, beta0_c3], [beta1_c0, beta1_c1, beta1_c2, beta1_c3]),
    ([lam0_c0, lam0_c1, lam0_c2, lam0_c3], [lam1_c0, lam1_c1, lam1_c2, lam1_c3]),
    ([alpha0_c0, alpha0_c1, alpha0_c2, alpha0_c3], [alpha1_c0, alpha1_c1, alpha1_c2, alpha1_c3]),
]
kdes = [
    ((beta0_grid, beta0_kde), (beta1_grid, beta1_kde)),
    ((lam0_grid, lam0_kde), (lam1_grid, lam1_kde)),
    ((alpha0_grid, alpha0_kde), (alpha1_grid, alpha1_kde)),
]
kde_ticks = [0.2, 2, 0.1]
trace_yticks = [[0.25, 0.5, 0.75, 1.0], [0, 5, 10], [0.2, 0.4]]

plt.rcParams.update({
    "font.family": "DejaVu Sans",
    "axes.facecolor": "#eeeeee",
    "axes.edgecolor": "none",
    "axes.axisbelow": True,
    "grid.color": "white",
    "grid.linewidth": 0.8,
    "text.color": "#1a1a1a",
    "axes.labelcolor": "#1a1a1a",
    "xtick.color": "#262626",
    "ytick.color": "#262626",
})

fig, axes = plt.subplots(3, 2, figsize=(12.115, 7.115), dpi=200)
fig.subplots_adjust(left=0.0103, right=0.9913, top=0.9445, bottom=0.092,
                    wspace=0.157, hspace=0.397)

lw = 1.8
for row in range(3):
    ax_kde, ax_tr = axes[row]
    # left: per-chain densities
    for ch in range(4):
        for k in range(2):
            grid, dens = kdes[row][k]
            y = np.asarray(dens[ch], dtype=float)
            x = np.asarray(grid, dtype=float)[:len(y)]
            ax_kde.plot(x, y, color=colors[row][k], ls=chain_styles[ch], lw=lw)
    ax_kde.set_yticks([])
    ax_kde.xaxis.set_major_locator(MultipleLocator(kde_ticks[row]))
    ax_kde.grid(True, axis="x")
    ax_kde.tick_params(axis="x", length=3, width=0.8, labelsize=12.6, pad=4)
    ax_kde.set_xlabel(var_names[row], fontsize=14.8, labelpad=6)

    # right: per-chain traces
    for ch in range(4):
        for k in range(2):
            vals = traces[row][k][ch]
            draws = chain_offsets[ch] + thin * np.arange(len(vals))
            ax_tr.plot(draws, vals, color=colors[row][k], ls=chain_styles[ch], lw=lw)
    ax_tr.xaxis.set_major_locator(MultipleLocator(200))
    ax_tr.set_yticks(trace_yticks[row])
    ax_tr.grid(True)
    ax_tr.tick_params(axis="both", length=0, labelsize=12.6, pad=4)
    ax_tr.set_xlabel("Draw", fontsize=14.8, labelpad=5.5)
    ax_tr.set_ylabel(var_names[row], fontsize=14.8, labelpad=3)

fig.suptitle("Trace Plots", fontsize=15.5, y=0.972, va="center")

fig.savefig("out.png", dpi=200)
